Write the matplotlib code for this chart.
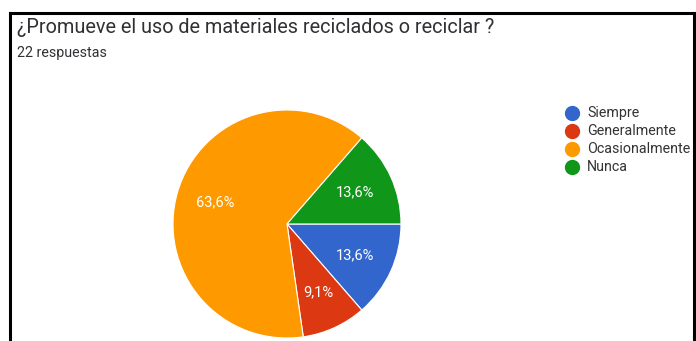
import matplotlib.pyplot as plt
from matplotlib.lines import Line2D

# data
labels = ['Siempre', 'Generalmente', 'Ocasionalmente', 'Nunca']
values = [13.6, 9.1, 63.6, 13.6]
pct_labels = ['13,6%', '9,1%', '63,6%', '13,6%']
colors = ['#3366cc', '#dc3912', '#ff9900', '#109618']
title = '¿Promueve el uso de materiales reciclados o reciclar ?'
subtitle = '22 respuestas'

plt.rcParams['font.family'] = ['Roboto', 'DejaVu Sans']

W, H = 696, 341
fig = plt.figure(figsize=(W / 100, H / 100), dpi=100)
fig.patch.set_facecolor('white')

# pie axes placed in pixel terms
cx, cy, r = 287, 224, 114
ax = fig.add_axes([(cx - r) / W, (H - cy - r) / H, 2 * r / W, 2 * r / H])
wedges, texts = ax.pie(
    values, colors=colors, startangle=0, counterclock=False,
    labels=pct_labels, labeldistance=0.66,
    wedgeprops=dict(edgecolor='white', linewidth=0.8),
    textprops=dict(color='white', fontsize=10.5, ha='center', va='center'))
for t in texts:
    t.set_horizontalalignment('center')
ax.set_xlim(-1, 1)
ax.set_ylim(-1, 1)
ax.set_aspect('equal')
ax.axis('off')

fig.text(17 / W, 1 - 33 / H, title, fontsize=14.3, color='#303134', va='baseline')
fig.text(17 / W, 1 - 57 / H, subtitle, fontsize=10.3, color='#303134', va='baseline')

# legend
leg_y = [113, 131, 149, 167]
for lab, col, y in zip(labels, colors, leg_y):
    fig.add_artist(Line2D([572 / W], [1 - y / H], marker='o', markersize=10,
                          color=col, linestyle='none'))
    fig.text(587 / W, 1 - y / H, lab, fontsize=10.3, color='#333333', va='center')

# black frame (top, left, right)
for xs, ys in [([10, 696], [13, 13]), ([10, 10], [13, 341]), ([694, 694], [13, 341])]:
    fig.add_artist(Line2D([x / W for x in xs], [1 - y / H for y in ys],
                          color='black', linewidth=2.2))

fig.savefig('out.png', dpi=100)
